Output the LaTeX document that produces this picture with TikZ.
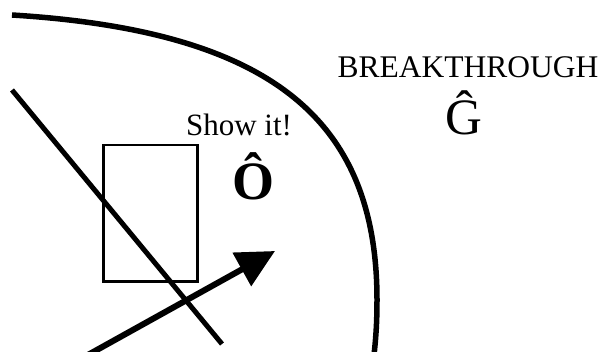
\documentclass[tikz,border=0pt]{standalone}
\usepackage{fontspec}
\setmainfont{Liberation Serif}
\usetikzlibrary{arrows.meta}
\begin{document}
\begin{tikzpicture}[x=1pt,y=-1pt,
  thickline/.style={line width=5.5pt},
  lbl/.style={anchor=base,inner sep=0pt,outer sep=0pt},
  box/.style={draw,line width=2.5pt}]
\clip (0,0) rectangle (604,352);
\useasboundingbox (0,0) rectangle (604,352);
% boundary curve
\draw[thickline] (12,15) .. controls (272,31) and (377,120) .. (377,300)
   .. controls (377,330) and (375,345) .. (373,365);
% rectangle
\node[box,minimum width=94pt,minimum height=136pt,anchor=north west,inner sep=0pt] (rect) at (102,144) {};
% diagonal line
\coordinate (d1) at (12,90);
\coordinate (d2) at (222,344);
\draw[line width=5pt] (d1) -- (d2);
% arrow
\coordinate (a1) at (86,356);
\coordinate (a2) at (275,251);
\draw[line width=6pt,-{Triangle[length=38pt,width=37pt]}] (a1) -- (a2);
% texts
\node[lbl,font=\fontsize{31.5}{31.5}\selectfont] (bt) at (468,77.5) {BREAKTHROUGH};
\node[lbl,font=\fontsize{51}{51}\selectfont] (g) at (463.5,135) {Ĝ};
\node[lbl,font=\fontsize{31}{31}\selectfont] (show) at (239,136) {Show it!};
\node[lbl,font=\fontsize{54}{54}\selectfont\bfseries] (o) at (253.5,200) {Ô};
\end{tikzpicture}
\end{document}
